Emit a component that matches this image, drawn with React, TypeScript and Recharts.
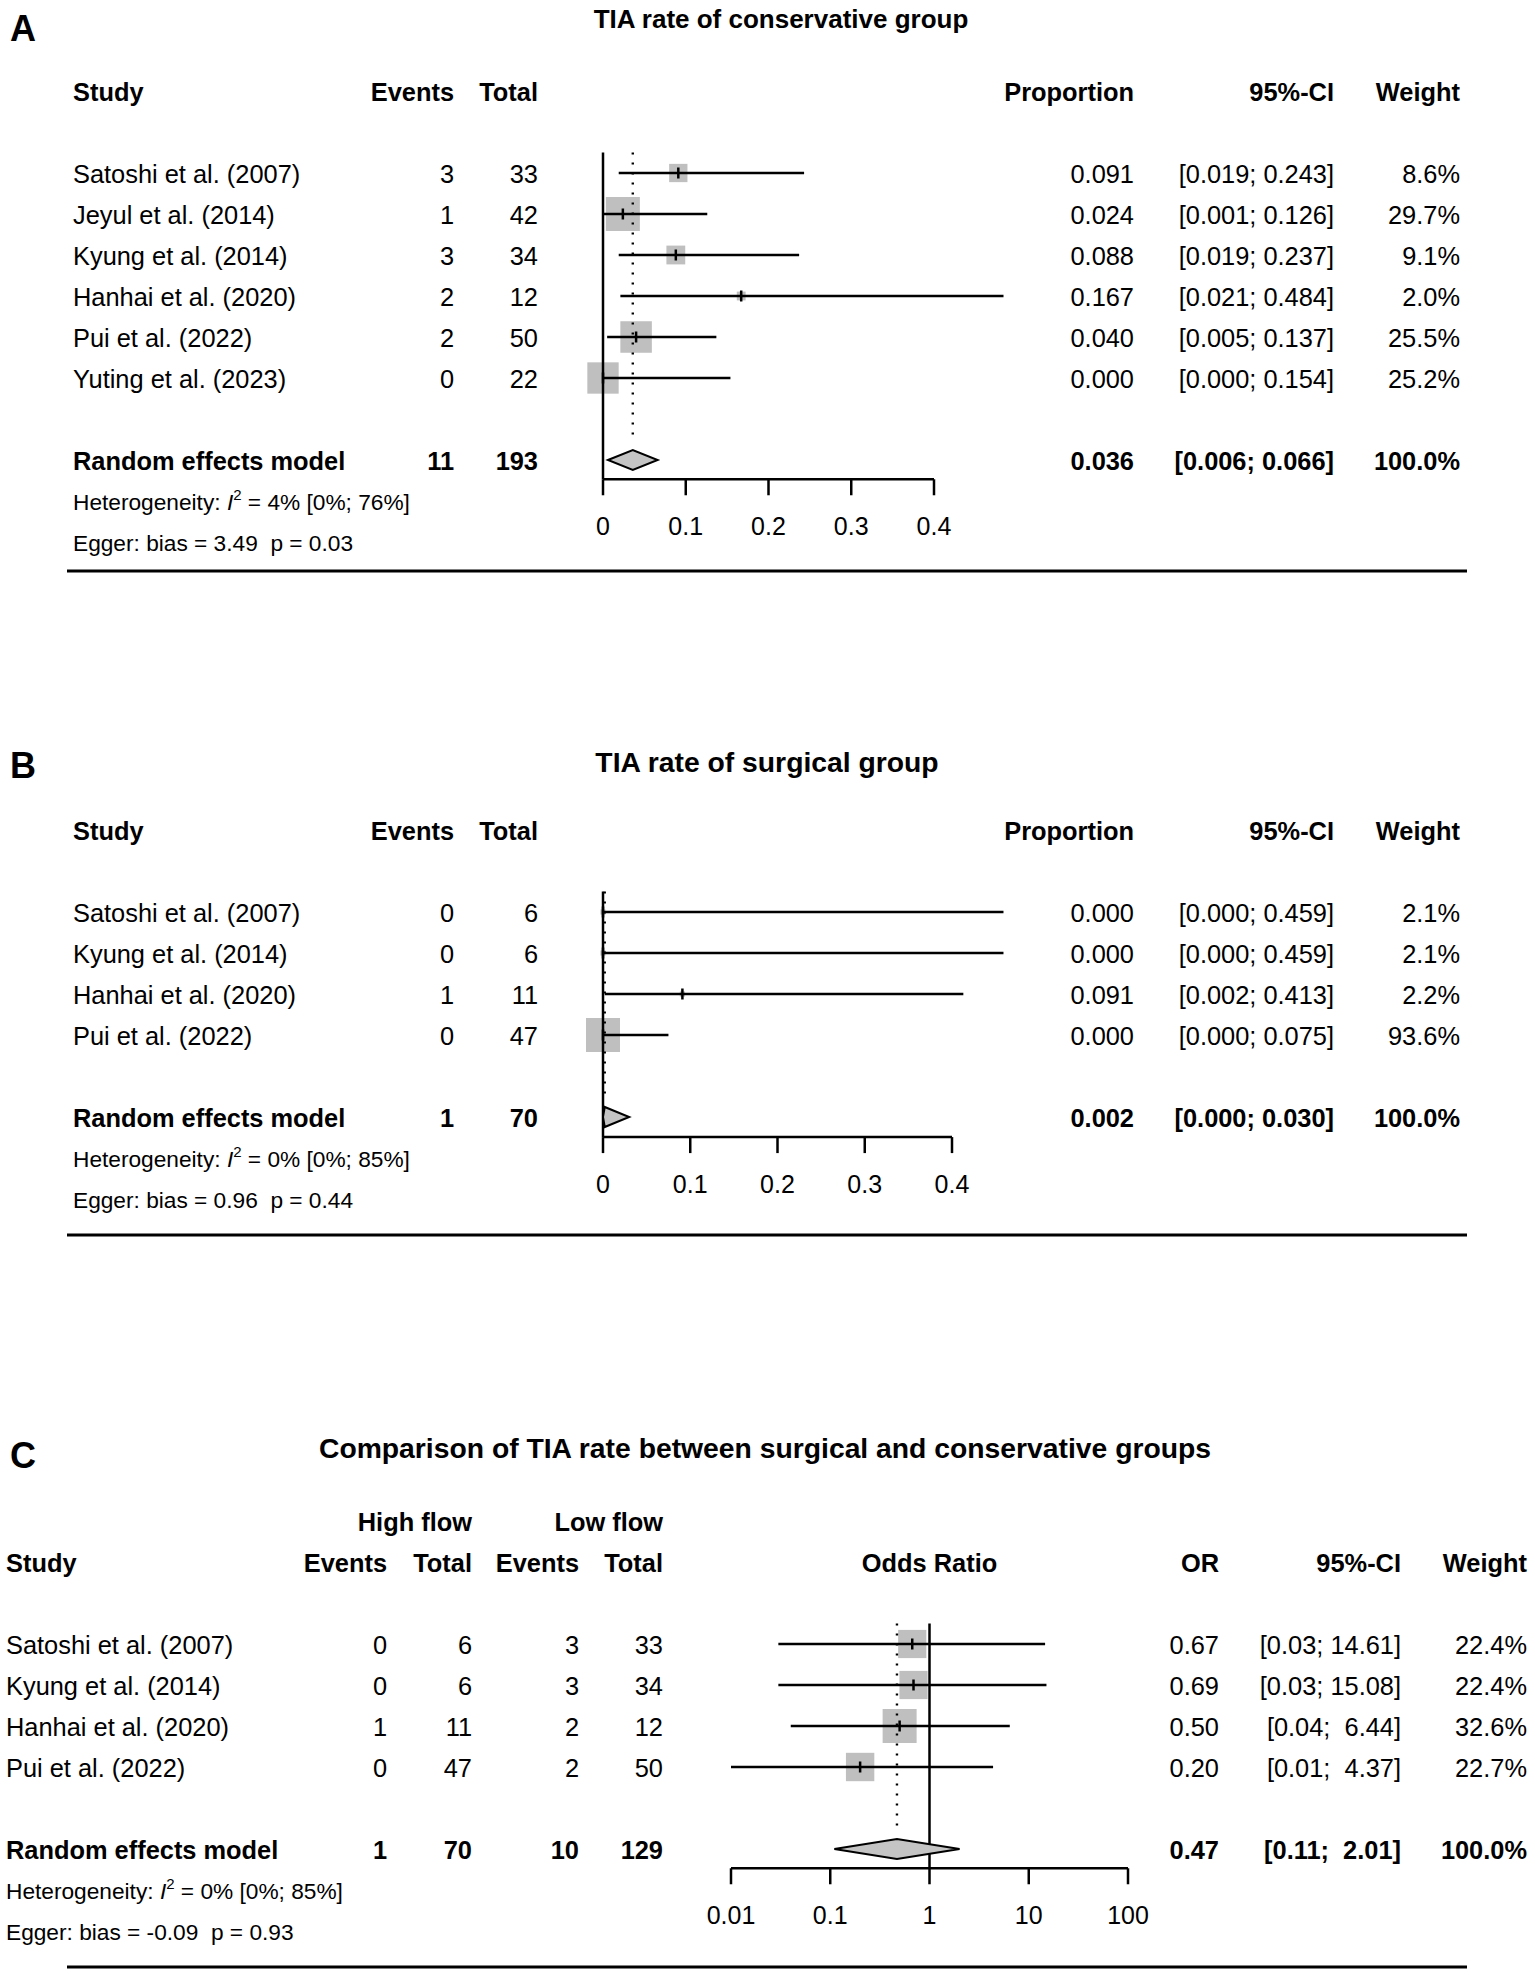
import React from 'react';
import { ComposedChart, XAxis, YAxis, Scatter, ReferenceLine } from 'recharts';

const FONT = '"Liberation Sans", Arial, Helvetica, sans-serif';

/* ---------------- Panel A : TIA rate of conservative group ---------------- */
const studiesA = ['Satoshi et al. (2007)', 'Jeyul et al. (2014)', 'Kyung et al. (2014)', 'Hanhai et al. (2020)', 'Pui et al. (2022)', 'Yuting et al. (2023)'];
const eventsA = [3, 1, 3, 2, 2, 0];
const totalA = [33, 42, 34, 12, 50, 22];
const propA = [0.091, 0.024, 0.088, 0.167, 0.04, 0.0];
const lowA = [0.019, 0.001, 0.019, 0.021, 0.005, 0.0];
const highA = [0.243, 0.126, 0.237, 0.484, 0.137, 0.154];
const weightA = [8.6, 29.7, 9.1, 2.0, 25.5, 25.2];
const pooledA = { events: 11, total: 193, est: 0.036, low: 0.006, high: 0.066, weight: 100 };
const hetA = { i2: '4%', ci: '[0%; 76%]' };
const eggerA = { bias: 3.49, p: 0.03 };
const ticksA = [0, 0.1, 0.2, 0.3, 0.4];

/* ---------------- Panel B : TIA rate of surgical group ---------------- */
const studiesB = ['Satoshi et al. (2007)', 'Kyung et al. (2014)', 'Hanhai et al. (2020)', 'Pui et al. (2022)'];
const eventsB = [0, 0, 1, 0];
const totalB = [6, 6, 11, 47];
const propB = [0.0, 0.0, 0.091, 0.0];
const lowB = [0.0, 0.0, 0.002, 0.0];
const highB = [0.459, 0.459, 0.413, 0.075];
const weightB = [2.1, 2.1, 2.2, 93.6];
const pooledB = { events: 1, total: 70, est: 0.002, low: 0.0, high: 0.03, weight: 100 };
const hetB = { i2: '0%', ci: '[0%; 85%]' };
const eggerB = { bias: 0.96, p: 0.44 };
const ticksB = [0, 0.1, 0.2, 0.3, 0.4];

/* ---------------- Panel C : Comparison (odds ratio) ---------------- */
const studiesC = ['Satoshi et al. (2007)', 'Kyung et al. (2014)', 'Hanhai et al. (2020)', 'Pui et al. (2022)'];
const eventsHighC = [0, 0, 1, 0];
const totalHighC = [6, 6, 11, 47];
const eventsLowC = [3, 3, 2, 2];
const totalLowC = [33, 34, 12, 50];
const orC = [0.67, 0.69, 0.5, 0.2];
const lowC = [0.03, 0.03, 0.04, 0.01];
const highC = [14.61, 15.08, 6.44, 4.37];
const weightC = [22.4, 22.4, 32.6, 22.7];
const pooledC = { eventsHigh: 1, totalHigh: 70, eventsLow: 10, totalLow: 129, est: 0.47, low: 0.11, high: 2.01, weight: 100 };
const hetC = { i2: '0%', ci: '[0%; 85%]' };
const eggerC = { bias: -0.09, p: 0.93 };
const ticksC = [0.01, 0.1, 1, 10, 100];

/* ---------------- layout / style constants ---------------- */
const PAGE_W = 1535;
const ROW = 41;
const BOX = 34;
const DIAMOND_HALF = 10 / ROW;
const FS = 25.4;
const FS_HET = 22.7;
const FS_TITLE_A = 26;
const FS_TITLE_BC = 28.3;
const FS_LETTER = 36;
const FS_TICK = 25;
const XAXIS_H = 60;
const TEXT_SHIFT = 0.5;

const colsAB = { study: 73, events: 454, total: 538, est: 1134, ci: 1334, weight: 1460 };
const colsC = { study: 6, ev1: 387, tot1: 472, ev2: 579, tot2: 663, mid: 929.5, est: 1219, ci: 1401, weight: 1527 };

type Cell = { x: number; text?: string; anchor?: 'start' | 'middle' | 'end'; bold?: boolean; size?: number; het?: { i2: string; ci: string } };
type TRow = { x0: number; row: number; cells: Cell[] };

const txt = (x: number, text: string, anchor: 'start' | 'middle' | 'end' = 'end', bold = false, size = FS): Cell => ({ x, text, anchor, bold, size });
const f3 = (v: number) => v.toFixed(3);
const ciAB = (l: number, h: number) => `[${f3(l)}; ${f3(h)}]`;
const ciC = (l: number, h: number) => `[${l.toFixed(2)}; ${h.toFixed(2).padStart(5, ' ')}]`;
const pct = (w: number) => `${w.toFixed(1)}%`;
const eggerText = (e: { bias: number; p: number }) => `Egger: bias = ${e.bias.toFixed(2)}  p = ${e.p.toFixed(2)}`;

function tableAB(letter: string, title: string, titleX: number, titleSize: number, letterRow: number, titleRow: number,
  studies: string[], events: number[], totals: number[], est: number[], low: number[], high: number[], weight: number[],
  pooled: any, het: any, egger: any, reRow: number): TRow[] {
  const c = colsAB;
  const rows: TRow[] = [];
  rows.push({ x0: 0, row: letterRow, cells: [txt(10, letter, 'start', true, FS_LETTER)] });
  rows.push({ x0: 0, row: titleRow, cells: [txt(titleX, title, 'middle', true, titleSize)] });
  rows.push({ x0: 0, row: -2, cells: [txt(c.study, 'Study', 'start', true), txt(c.events, 'Events', 'end', true), txt(c.total, 'Total', 'end', true), txt(c.est, 'Proportion', 'end', true), txt(c.ci, '95%-CI', 'end', true), txt(c.weight, 'Weight', 'end', true)] });
  studies.forEach((s, i) => rows.push({ x0: 0, row: i, cells: [txt(c.study, s, 'start'), txt(c.events, String(events[i])), txt(c.total, String(totals[i])), txt(c.est, f3(est[i])), txt(c.ci, ciAB(low[i], high[i])), txt(c.weight, pct(weight[i]))] }));
  rows.push({ x0: 0, row: reRow, cells: [txt(c.study, 'Random effects model', 'start', true), txt(c.events, String(pooled.events), 'end', true), txt(c.total, String(pooled.total), 'end', true), txt(c.est, f3(pooled.est), 'end', true), txt(c.ci, ciAB(pooled.low, pooled.high), 'end', true), txt(c.weight, pct(pooled.weight), 'end', true)] });
  rows.push({ x0: 0, row: reRow + 1, cells: [{ x: c.study, het }] });
  rows.push({ x0: 0, row: reRow + 2, cells: [txt(c.study, eggerText(egger), 'start', false, FS_HET)] });
  return rows;
}

function tableC(): TRow[] {
  const c = colsC;
  const rows: TRow[] = [];
  rows.push({ x0: 0, row: -4.62, cells: [txt(10, 'C', 'start', true, FS_LETTER)] });
  rows.push({ x0: 0, row: -4.79, cells: [txt(765, 'Comparison of TIA rate between surgical and conservative groups', 'middle', true, FS_TITLE_BC)] });
  rows.push({ x0: 0, row: -2.98, cells: [txt(c.tot1, 'High flow', 'end', true), txt(c.tot2, 'Low flow', 'end', true)] });
  rows.push({ x0: 0, row: -2, cells: [txt(c.study, 'Study', 'start', true), txt(c.ev1, 'Events', 'end', true), txt(c.tot1, 'Total', 'end', true), txt(c.ev2, 'Events', 'end', true), txt(c.tot2, 'Total', 'end', true), txt(c.mid, 'Odds Ratio', 'middle', true), txt(c.est, 'OR', 'end', true), txt(c.ci, '95%-CI', 'end', true), txt(c.weight, 'Weight', 'end', true)] });
  studiesC.forEach((s, i) => rows.push({ x0: 0, row: i, cells: [txt(c.study, s, 'start'), txt(c.ev1, String(eventsHighC[i])), txt(c.tot1, String(totalHighC[i])), txt(c.ev2, String(eventsLowC[i])), txt(c.tot2, String(totalLowC[i])), txt(c.est, orC[i].toFixed(2)), txt(c.ci, ciC(lowC[i], highC[i])), txt(c.weight, pct(weightC[i]))] }));
  const re = studiesC.length + 1;
  rows.push({ x0: 0, row: re, cells: [txt(c.study, 'Random effects model', 'start', true), txt(c.ev1, String(pooledC.eventsHigh), 'end', true), txt(c.tot1, String(pooledC.totalHigh), 'end', true), txt(c.ev2, String(pooledC.eventsLow), 'end', true), txt(c.tot2, String(pooledC.totalLow), 'end', true), txt(c.est, pooledC.est.toFixed(2), 'end', true), txt(c.ci, ciC(pooledC.low, pooledC.high), 'end', true), txt(c.weight, pct(pooledC.weight), 'end', true)] });
  rows.push({ x0: 0, row: re + 1, cells: [{ x: c.study, het: hetC }] });
  rows.push({ x0: 0, row: re + 2, cells: [txt(c.study, eggerText(eggerC), 'start', false, FS_HET)] });
  return rows;
}

/* ---------------- shapes ---------------- */
const TextRowShape = (props: any) => {
  const { cy, payload } = props;
  return (
    <g>
      {payload.cells.map((cell: Cell, i: number) => {
        if (cell.het) {
          const y = cy + FS_HET * 0.36 + TEXT_SHIFT;
          return (
            <text key={i} x={cell.x} y={y} fontSize={FS_HET} fontFamily={FONT} fill="#000" style={{ whiteSpace: 'pre' }}>
              <tspan>Heterogeneity: </tspan>
              <tspan fontStyle="italic">I</tspan>
              <tspan dy={-10} fontSize={15}>2</tspan>
              <tspan dy={10}>{` = ${cell.het.i2} ${cell.het.ci}`}</tspan>
            </text>
          );
        }
        const size = cell.size || FS;
        return (
          <text key={i} x={cell.x} y={cy + size * 0.36 + TEXT_SHIFT} fontSize={size} fontFamily={FONT} fontWeight={cell.bold ? 700 : 400}
            textAnchor={cell.anchor} fill="#000" style={{ whiteSpace: 'pre' }}>
            {cell.text}
          </text>
        );
      })}
    </g>
  );
};

const SquareShape = (props: any) => {
  const { cx, cy, payload } = props;
  const side = BOX * Math.sqrt(payload.w / payload.wmax);
  return <rect x={cx - side / 2} y={cy - side / 2} width={side} height={side} fill="#bfbfbf" />;
};

const TickShape = (props: any) => {
  const { cx, cy } = props;
  return <line x1={cx} x2={cx} y1={cy - 5.5} y2={cy + 5.5} stroke="#000" strokeWidth={2.5} />;
};

const EmptyShape = () => <g />;

const DiamondLine = (p: any) => (
  <polygon points={(p.points || []).map((q: any) => `${q.x},${q.y}`).join(' ')} fill="#c4c4c4" stroke="#000" strokeWidth={2} />
);

/* ---------------- charts ---------------- */
type Spec = {
  top: number; H: number; row0: number; tDomain: [number, number]; fDomain: [number, number];
  xLeft: number; xRight: number; xDomain: [number, number]; ticks: number[]; log: boolean; nullX: number;
  est: number[]; low: number[]; high: number[]; weight: number[]; pooled: { est: number; low: number; high: number };
  reRow: number; rows: TRow[]; ruleRow: number;
};

function Forest({ s, layer }: { s: Spec; layer: 'back' | 'front' }) {
  const plotTop = s.row0 + s.fDomain[0] * ROW;
  const plotBottom = s.row0 + s.fDomain[1] * ROW;
  const wmax = Math.max(...s.weight);
  const pts = s.est.map((e, i) => ({ x: e, y: i, w: s.weight[i], wmax }));
  const dia = [
    { x: s.pooled.low, y: s.reRow },
    { x: s.pooled.est, y: s.reRow - DIAMOND_HALF },
    { x: s.pooled.high, y: s.reRow },
    { x: s.pooled.est, y: s.reRow + DIAMOND_HALF },
  ];
  const front = layer === 'front';
  return (
    <ComposedChart width={PAGE_W} height={s.H}
      margin={{ top: plotTop, left: s.xLeft, right: PAGE_W - s.xRight, bottom: s.H - plotBottom - XAXIS_H }}>
      <XAxis type="number" dataKey="x" scale={s.log ? 'log' : 'linear'} domain={s.xDomain} ticks={s.ticks} interval={0}
        height={XAXIS_H} tickSize={16} tickMargin={22}
        axisLine={front ? { stroke: '#000', strokeWidth: 2.5 } : false}
        tickLine={front ? { stroke: '#000', strokeWidth: 2.5 } : false}
        tick={front ? { fill: '#000', fontSize: FS_TICK, fontFamily: FONT } : false} />
      <YAxis type="number" dataKey="y" domain={s.fDomain} reversed hide />
      {!front && <Scatter data={pts} shape={SquareShape} isAnimationActive={false} />}
      {front && <ReferenceLine x={s.nullX} stroke="#000" strokeWidth={2.5} />}
      {front && (
        <ReferenceLine segment={[{ x: s.pooled.est, y: s.fDomain[0] }, { x: s.pooled.est, y: s.reRow - 0.5 }]}
          stroke="#000" strokeWidth={2.4} strokeDasharray="2 8" ifOverflow="visible" />
      )}
      {front && s.est.map((e, i) => (
        <ReferenceLine key={`ci${i}`} segment={[{ x: s.low[i], y: i }, { x: s.high[i], y: i }]}
          stroke="#000" strokeWidth={2.4} ifOverflow="visible" />
      ))}
      {front && <Scatter data={pts} shape={TickShape} isAnimationActive={false} />}
      {front && <Scatter data={dia} shape={EmptyShape} line={DiamondLine} lineType="joint" isAnimationActive={false} />}
    </ComposedChart>
  );
}

function Table({ s }: { s: Spec }) {
  const top = s.row0 + s.tDomain[0] * ROW;
  const bottom = s.row0 + s.tDomain[1] * ROW;
  return (
    <ComposedChart width={PAGE_W} height={s.H} margin={{ top, left: 0, right: 0, bottom: s.H - bottom }}>
      <XAxis type="number" dataKey="x0" domain={[0, PAGE_W]} hide />
      <YAxis type="number" dataKey="row" domain={s.tDomain} reversed hide />
      <ReferenceLine segment={[{ x: 67, y: s.ruleRow }, { x: 1467, y: s.ruleRow }]} stroke="#000" strokeWidth={3} ifOverflow="visible" />
      <Scatter data={s.rows} shape={TextRowShape} isAnimationActive={false} />
    </ComposedChart>
  );
}

function Panel({ s }: { s: Spec }) {
  return (
    <div style={{ position: 'absolute', left: 0, top: s.top, width: PAGE_W, height: s.H }}>
      <div style={{ position: 'absolute', left: 0, top: 0 }}><Forest s={s} layer="back" /></div>
      <div style={{ position: 'absolute', left: 0, top: 0 }}><Forest s={s} layer="front" /></div>
      <div style={{ position: 'absolute', left: 0, top: 0, pointerEvents: 'none' }}><Table s={s} /></div>
    </div>
  );
}

const specA: Spec = {
  top: 0, H: 620, row0: 173, tDomain: [-4, 10], fDomain: [-0.5, 7.47],
  xLeft: 603, xRight: 934, xDomain: [0, 0.4], ticks: ticksA, log: false, nullX: 0,
  est: propA, low: lowA, high: highA, weight: weightA, pooled: pooledA, reRow: studiesA.length + 1,
  rows: tableAB('A', 'TIA rate of conservative group', 781, FS_TITLE_A, -3.56, -3.77, studiesA, eventsA, totalA, propA, lowA, highA, weightA, pooledA, hetA, eggerA, studiesA.length + 1),
  ruleRow: 9.71,
};

const specB: Spec = {
  top: 620, H: 640, row0: 912 - 620, tDomain: [-4, 8], fDomain: [-0.5, 5.49],
  xLeft: 603, xRight: 952, xDomain: [0, 0.4], ticks: ticksB, log: false, nullX: 0,
  est: propB, low: lowB, high: highB, weight: weightB, pooled: pooledB, reRow: studiesB.length + 1,
  rows: tableAB('B', 'TIA rate of surgical group', 767, FS_TITLE_BC, -3.59, -3.68, studiesB, eventsB, totalB, propB, lowB, highB, weightB, pooledB, hetB, eggerB, studiesB.length + 1),
  ruleRow: 7.88,
};

const specC: Spec = {
  top: 1260, H: 717, row0: 1644 - 1260, tDomain: [-6, 8], fDomain: [-0.5, 5.47],
  xLeft: 731, xRight: 1128, xDomain: [0.01, 100], ticks: ticksC, log: true, nullX: 1,
  est: orC, low: lowC, high: highC, weight: weightC, pooled: pooledC, reRow: studiesC.length + 1,
  rows: tableC(),
  ruleRow: 7.88,
};

export default function App() {
  return (
    <div style={{ position: 'absolute', left: 0, top: 0, width: PAGE_W, height: 1977, background: '#fff', overflow: 'hidden' }}>
      <Panel s={specA} />
      <Panel s={specB} />
      <Panel s={specC} />
    </div>
  );
}
